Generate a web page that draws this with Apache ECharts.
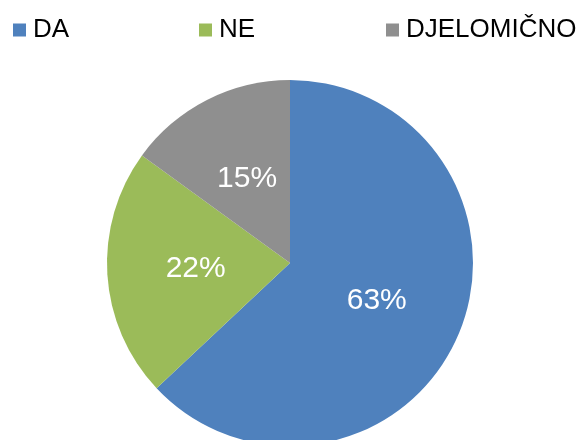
<!DOCTYPE html>
<html>
<head>
<meta charset="utf-8">
<script src="https://cdn.jsdelivr.net/npm/echarts@6/dist/echarts.min.js"></script>
<style>
  html, body { margin: 0; padding: 0; background: #fff; }
  #chart { width: 581px; height: 440px; }
</style>
</head>
<body>
<div id="chart"></div>
<script>
const categories = ['DA', 'NE', 'DJELOMIČNO']
const values = [63, 22, 15]
const colors = ['#4F81BD', '#9BBB59', '#8F8F8F']
const legendLeft = [13, 199, 386]

const chart = echarts.init(document.getElementById('chart'))

const legends = categories.map((name, i) => ({
  data: [name],
  left: legendLeft[i],
  top: 17,
  padding: 0,
  icon: 'rect',
  itemWidth: 13,
  itemHeight: 13,
  itemGap: 0,
  selectedMode: false,
  textStyle: {
    fontFamily: 'Liberation Sans, Arial, sans-serif',
    fontSize: 26,
    color: '#000',
    padding: [0, 0, 0, 2],
  },
}))

chart.setOption({
  animation: false,
  color: colors,
  legend: legends,
  series: [
    {
      type: 'pie',
      center: [290, 263],
      radius: [0, 183],
      startAngle: 90,
      clockwise: true,
      label: {
        show: true,
        position: 'inside',
        formatter: p => p.value + '%',
        color: '#fff',
        fontFamily: 'Liberation Sans, Arial, sans-serif',
        fontSize: 30,
      },
      labelLine: { show: false },
      itemStyle: { borderWidth: 0 },
      emphasis: { disabled: true },
      data: categories.map((name, i) => ({ name, value: values[i] })),
    },
  ],
})
</script>
</body>
</html>
